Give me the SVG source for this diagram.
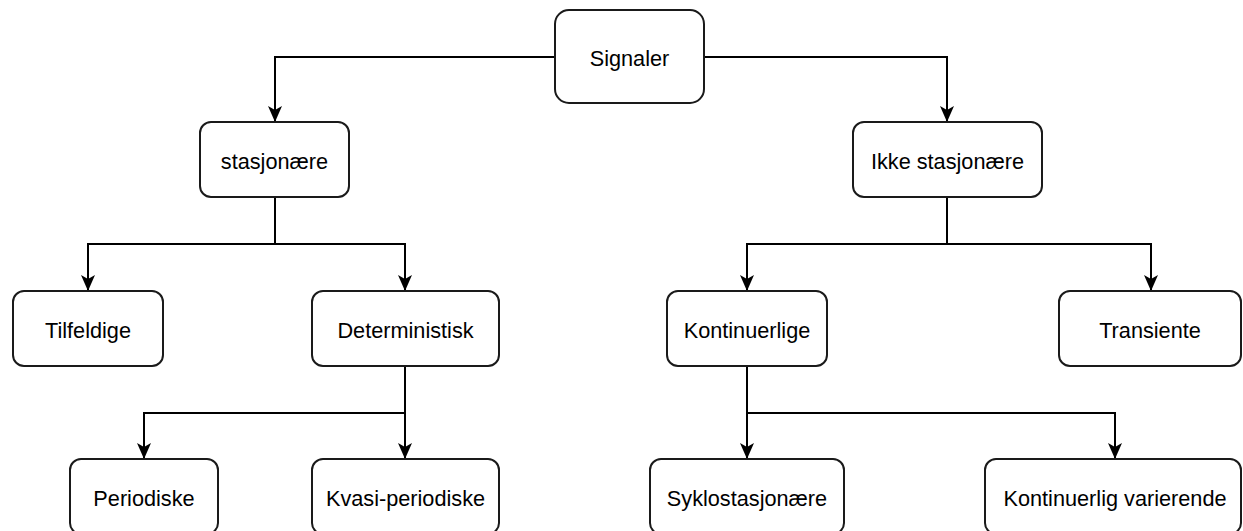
<svg xmlns="http://www.w3.org/2000/svg" width="1243" height="531" viewBox="0 0 1243 531">
  <style>
    .box { fill: #ffffff; stroke: #1a1a1a; stroke-width: 2; }
    .lbl { font-family: "Liberation Sans", Arial, sans-serif; font-size: 21.7px; fill: #000000; text-anchor: middle; }
    .edge { fill: none; stroke: #000000; stroke-width: 2; marker-end: url(#arrow); }
    .edge2 { fill: none; stroke: #000000; stroke-width: 2; }
  </style>
  <defs>
    <marker id="arrow" markerUnits="userSpaceOnUse" viewBox="0 0 16 14" markerWidth="16" markerHeight="14" refX="15" refY="7" orient="auto">
      <path d="M0,0 L16,7 L0,14 L4,7 Z" fill="#000000"/>
    </marker>
  </defs>
  <rect width="1243" height="531" fill="#ffffff"/>

  <g id="connectors">
    <path class="edge" d="M555,57 H275 V121"/>
    <path class="edge" d="M704,57 H947 V121"/>
    <path class="edge" d="M275,197 V244 H88 V290"/>
    <path class="edge" d="M275,244 H405 V290"/>
    <path class="edge" d="M947,197 V244 H747 V290"/>
    <path class="edge" d="M947,244 H1151 V290"/>
    <path class="edge" d="M405,366 V413 H144 V458"/>
    <path class="edge" d="M405,413 V458"/>
    <path class="edge" d="M747,366 V458"/>
    <path class="edge" d="M747,413 H1115 V458"/>
  </g>

  <g id="node-signaler">
    <rect class="box" x="555" y="10" width="149" height="93" rx="14"/>
    <text class="lbl" x="629.5" y="66">Signaler</text>
  </g>
  <g id="node-stasjonaere">
    <rect class="box" x="200" y="122" width="149" height="75" rx="11"/>
    <text class="lbl" x="274.5" y="169">stasjonære</text>
  </g>
  <g id="node-ikke-stasjonaere">
    <rect class="box" x="853" y="122" width="189" height="75" rx="11"/>
    <text class="lbl" x="947.5" y="169">Ikke stasjonære</text>
  </g>
  <g id="node-tilfeldige">
    <rect class="box" x="13" y="291" width="150" height="75" rx="11"/>
    <text class="lbl" x="88" y="338">Tilfeldige</text>
  </g>
  <g id="node-deterministisk">
    <rect class="box" x="312" y="291" width="187" height="75" rx="11"/>
    <text class="lbl" x="405.5" y="338">Deterministisk</text>
  </g>
  <g id="node-kontinuerlige">
    <rect class="box" x="667" y="291" width="160" height="75" rx="11"/>
    <text class="lbl" x="747" y="338">Kontinuerlige</text>
  </g>
  <g id="node-transiente">
    <rect class="box" x="1059" y="291" width="182" height="75" rx="11"/>
    <text class="lbl" x="1150" y="338">Transiente</text>
  </g>
  <g id="node-periodiske">
    <rect class="box" x="70" y="459" width="148" height="75" rx="11"/>
    <text class="lbl" x="144" y="506">Periodiske</text>
  </g>
  <g id="node-kvasi-periodiske">
    <rect class="box" x="312" y="459" width="187" height="75" rx="11"/>
    <text class="lbl" x="405.5" y="506">Kvasi-periodiske</text>
  </g>
  <g id="node-syklostasjonaere">
    <rect class="box" x="650" y="459" width="194" height="75" rx="11"/>
    <text class="lbl" x="747" y="506">Syklostasjonære</text>
  </g>
  <g id="node-kontinuerlig-varierende">
    <rect class="box" x="985" y="459" width="256" height="75" rx="11"/>
    <text class="lbl" x="1115" y="506">Kontinuerlig varierende</text>
  </g>
</svg>
